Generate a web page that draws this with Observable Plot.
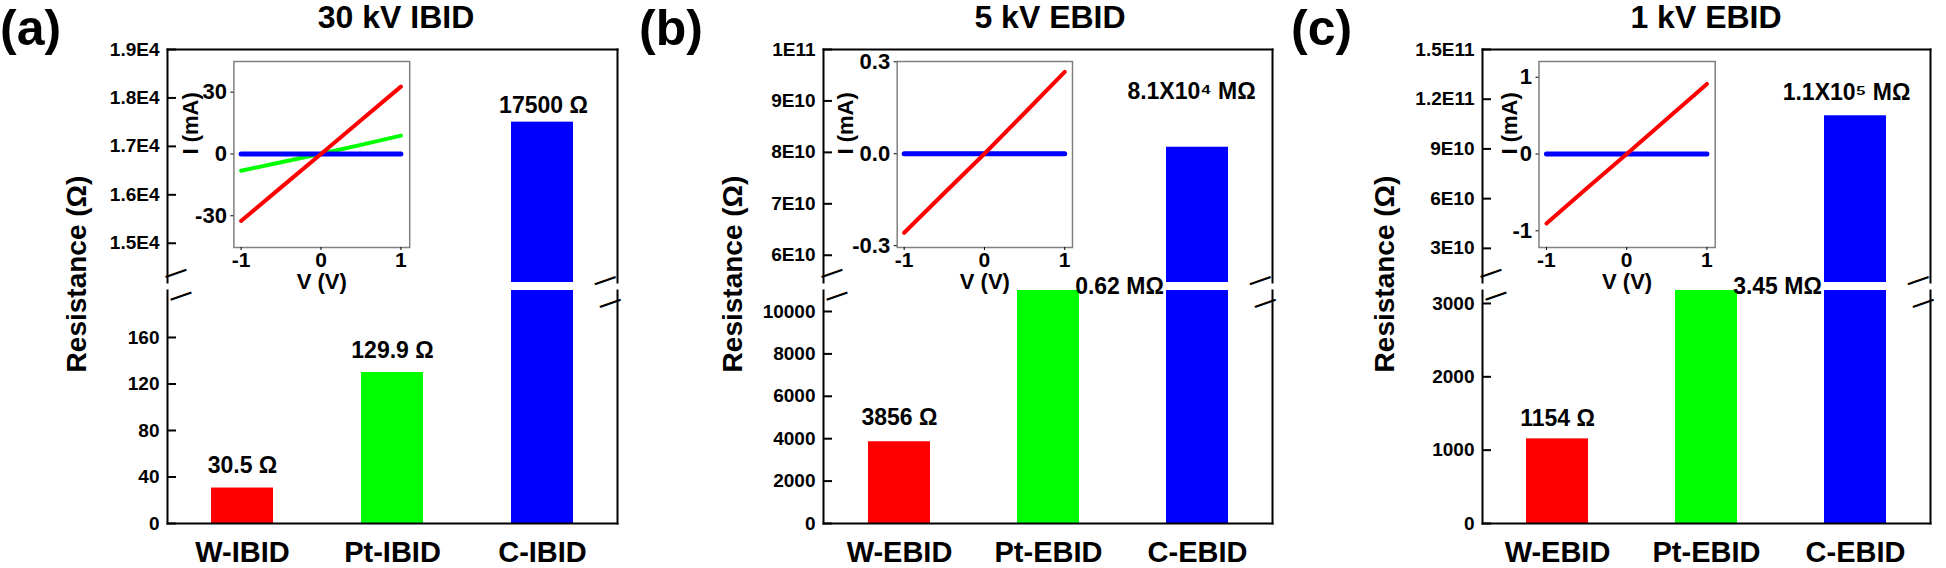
<!DOCTYPE html>
<html><head><meta charset="utf-8">
<script src="https://cdn.jsdelivr.net/npm/d3@7"></script>
<script src="https://cdn.jsdelivr.net/npm/@observablehq/plot@0.6"></script>
<style>
body{margin:0;background:#fff;}
#root{position:relative;width:1946px;height:568px;overflow:hidden;font-family:"Liberation Sans",Arial,sans-serif;font-weight:bold;color:#000;}
#root svg{position:absolute;left:0;top:0;}
.ttl{position:absolute;top:1px;font-size:32px;line-height:1;white-space:nowrap;transform:translateX(-50%);}
.let{position:absolute;top:1px;font-size:50px;line-height:1.1;white-space:nowrap;}
.ylab{position:absolute;font-size:28px;line-height:1;white-space:nowrap;transform:translate(-50%,-50%) rotate(-90deg);}
</style></head><body><div id="root"></div>
<script>
// ---------------- data ----------------
const panelLetters = ["(a)", "(b)", "(c)"];
const panelTitles = ["30 kV IBID", "5 kV EBID", "1 kV EBID"];
const yAxisTitle = "Resistance (Ω)";
const barColors = ["#ff0000", "#00ff00", "#0000ff"];

const aCategories = ["W-IBID", "Pt-IBID", "C-IBID"];
const aResistance = [30.5, 129.9, 17500];
const aValueLabels = ["30.5 Ω", "129.9 Ω", "17500 Ω"];
const aUpperTicks = [15000, 16000, 17000, 18000, 19000];
const aUpperTickLabels = ["1.5E4", "1.6E4", "1.7E4", "1.8E4", "1.9E4"];
const aLowerTicks = [0, 40, 80, 120, 160];
const aLowerTickLabels = ["0", "40", "80", "120", "160"];

const bCategories = ["W-EBID", "Pt-EBID", "C-EBID"];
const bResistance = [3856, 620000, 8.1e10];
const bValueLabels = ["3856 Ω", "0.62 MΩ", "8.1X10⁴ MΩ"];
const bUpperTicks = [6e10, 7e10, 8e10, 9e10, 1e11];
const bUpperTickLabels = ["6E10", "7E10", "8E10", "9E10", "1E11"];
const bLowerTicks = [0, 2000, 4000, 6000, 8000, 10000];
const bLowerTickLabels = ["0", "2000", "4000", "6000", "8000", "10000"];

const cCategories = ["W-EBID", "Pt-EBID", "C-EBID"];
const cResistance = [1154, 3.45e6, 1.1e11];
const cValueLabels = ["1154 Ω", "3.45 MΩ", "1.1X10⁵ MΩ"];
const cUpperTicks = [3e10, 6e10, 9e10, 1.2e11, 1.5e11];
const cUpperTickLabels = ["3E10", "6E10", "9E10", "1.2E11", "1.5E11"];
const cLowerTicks = [0, 1000, 2000, 3000];
const cLowerTickLabels = ["0", "1000", "2000", "3000"];

// I-V insets (V in volts, I in mA)
const ivVoltage = [-1, -0.5, 0, 0.5, 1];
const ivTicksX = [-1, 0, 1];
const ivTickLabelsX = ["-1", "0", "1"];
const aIvRed = [-32.5, -16.2, 0, 16.4, 32.7];
const aIvGreen = [-8.1, -4.0, 0.1, 4.4, 8.9];
const aIvBlue = [0, 0, 0, 0, 0];
const aIvTicks = [-30, 0, 30];
const aIvTickLabels = ["-30", "0", "30"];
const bIvRed = [-0.258, -0.128, 0, 0.133, 0.267];
const bIvGreen = [0, 0, 0, 0, 0];
const bIvBlue = [0, 0, 0, 0, 0];
const bIvTicks = [-0.3, 0, 0.3];
const bIvTickLabels = ["-0.3", "0.0", "0.3"];
const cIvRed = [-0.905, -0.45, 0, 0.455, 0.913];
const cIvGreen = [0, 0, 0, 0, 0];
const cIvBlue = [0, 0, 0, 0, 0];
const cIvTicks = [-1, 0, 1];
const cIvTickLabels = ["-1", "0", "1"];

// ---------------- layout ----------------
const W = 1946, H = 568;
const FRAME_TOP = 49, UPPER_BOTTOM = 282, LOWER_TOP = 290, FRAME_BOTTOM = 523;
const INSET_TOP = 61, INSET_BOTTOM = 247;
const YTITLE_CENTER = 274;
const FONT = "Liberation Sans, Arial, sans-serif";

const panels = [
  {cats: aCategories, vals: aResistance, labels: aValueLabels,
   upTicks: aUpperTicks, upLabels: aUpperTickLabels, upDomain: [14190, 19000],
   loTicks: aLowerTicks, loLabels: aLowerTickLabels, loDomain: [0, 200.4],
   left: 167, right: 617, titleX: 396, letterX: 0, ylabelX: 77,
   lowerLabelIdx: [0, 1], lowerDy: -22, breakIdx: null, topDx: 1, topDy: -17,
   inL: 233.4, inR: 409.2, ivX: [-1.09, 1.11], ivY: [-45.4, 44.9],
   red: aIvRed, green: aIvGreen, blue: aIvBlue, ivTicks: aIvTicks, ivLabels: aIvTickLabels, ivLabelX: 190},
  {cats: bCategories, vals: bResistance, labels: bValueLabels,
   upTicks: bUpperTicks, upLabels: bUpperTickLabels, upDomain: [5.47e10, 1e11],
   loTicks: bLowerTicks, loLabels: bLowerTickLabels, loDomain: [0, 10990],
   left: 823, right: 1272, titleX: 1050, letterX: 639, ylabelX: 733,
   lowerLabelIdx: [0], lowerDy: -24, breakIdx: 1, topDx: -6, topDy: -56,
   inL: 896.7, inR: 1072, ivX: [-1.087, 1.097], ivY: [-0.306, 0.301],
   red: bIvRed, green: bIvGreen, blue: bIvBlue, ivTicks: bIvTicks, ivLabels: bIvTickLabels, ivLabelX: 845},
  {cats: cCategories, vals: cResistance, labels: cValueLabels,
   upTicks: cUpperTicks, upLabels: cUpperTickLabels, upDomain: [9.4e9, 1.5e11],
   loTicks: cLowerTicks, loLabels: cLowerTickLabels, loDomain: [0, 3177],
   left: 1482, right: 1930, titleX: 1706, letterX: 1291, ylabelX: 1385,
   lowerLabelIdx: [0], lowerDy: -20, breakIdx: 1, topDx: -9, topDy: -23,
   inL: 1538.5, inR: 1714.7, ivX: [-1.093, 1.103], ivY: [-1.217, 1.205],
   red: cIvRed, green: cIvGreen, blue: cIvBlue, ivTicks: cIvTicks, ivLabels: cIvTickLabels, ivLabelX: 1509.5}
];

const svgStyle = {fontFamily: FONT, fontWeight: "bold", background: "transparent", overflow: "visible", color: "#000"};
const fmt = (ticks, labels) => d => labels[ticks.indexOf(d)];
const xBand = cats => ({type: "band", domain: cats, paddingInner: 0.587, paddingOuter: 0.2935});
const breakMark = anchor => Plot.text(["—"], {frameAnchor: anchor, rotate: -19, fontSize: 22, fontWeight: "bold"});
// short inward tick marks on the left axis
const inwardTicks = (ticks, p) => Plot.tickY(ticks, {y: d => d, insetRight: (p.right - p.left) - 9, strokeWidth: 2, stroke: "#000"});

const root = document.getElementById("root");

panels.forEach((p, k) => {
  const rows = p.cats.map((c, i) => ({cat: c, value: p.vals[i], label: p.labels[i], fill: barColors[i]}));

  // upper (broken) segment
  const upper = Plot.plot({
    width: W, height: H,
    marginLeft: p.left, marginRight: W - p.right, marginTop: FRAME_TOP, marginBottom: H - UPPER_BOTTOM,
    x: {...xBand(p.cats), axis: null},
    y: {domain: p.upDomain, clamp: true, axis: null},
    color: {type: "identity"},
    style: svgStyle,
    marks: [
      Plot.barY(rows, {x: "cat", y: "value", fill: "fill", clip: true}),
      Plot.frame({anchor: "top", strokeWidth: 2}),
      Plot.frame({anchor: "left", strokeWidth: 2}),
      Plot.frame({anchor: "right", strokeWidth: 2}),
      Plot.axisY(p.upTicks, {tickSize: 0, tickPadding: 8, fontSize: 19, tickFormat: fmt(p.upTicks, p.upLabels), label: null}),
      inwardTicks(p.upTicks, p),
      Plot.text([rows[2]], {x: "cat", y: "value", text: "label", dx: p.topDx, dy: p.topDy, fontSize: 23}),
      breakMark("bottom-left"),
      breakMark("bottom-right")
    ]
  });

  // lower segment
  const lowerMarks = [
    Plot.barY(rows, {x: "cat", y: "value", fill: "fill", clip: true}),
    Plot.frame({anchor: "left", strokeWidth: 2}),
    Plot.frame({anchor: "right", strokeWidth: 2}),
    Plot.frame({anchor: "bottom", strokeWidth: 2}),
    Plot.axisY(p.loTicks, {tickSize: 0, tickPadding: 8, fontSize: 19, tickFormat: fmt(p.loTicks, p.loLabels), label: null}),
    inwardTicks(p.loTicks, p),
    Plot.axisX({tickSize: 0, tickPadding: 18, fontSize: 29, label: null}),
    Plot.text(p.lowerLabelIdx.map(i => rows[i]), {x: "cat", y: "value", text: "label", dy: p.lowerDy, fontSize: 23}),
    breakMark("top-left"),
    breakMark("top-right")
  ];
  if (p.breakIdx != null) {
    lowerMarks.push(Plot.text([rows[p.breakIdx]], {x: "cat", frameAnchor: "top", text: "label", dx: 71, dy: -13, fontSize: 23}));
  }
  const lower = Plot.plot({
    width: W, height: H,
    marginLeft: p.left, marginRight: W - p.right, marginTop: LOWER_TOP, marginBottom: H - FRAME_BOTTOM,
    x: {...xBand(p.cats), axis: null},
    y: {domain: p.loDomain, clamp: true, axis: null},
    color: {type: "identity"},
    style: svgStyle,
    marks: lowerMarks
  });

  // I-V inset
  const iv = [];
  [["green", p.green], ["blue", p.blue], ["red", p.red]].forEach(([name, arr]) => {
    arr.forEach((v, i) => iv.push({series: name, V: ivVoltage[i], I: v}));
  });
  const inset = Plot.plot({
    width: W, height: H,
    marginLeft: p.inL, marginRight: W - p.inR, marginTop: INSET_TOP, marginBottom: H - INSET_BOTTOM,
    x: {domain: p.ivX, axis: null},
    y: {domain: p.ivY, axis: null},
    style: svgStyle,
    marks: [
      Plot.frame({stroke: "#808080", strokeWidth: 1.5}),
      Plot.line(iv.filter(d => d.series === "green"), {x: "V", y: "I", stroke: "#00ff00", strokeWidth: 4}),
      Plot.line(iv.filter(d => d.series === "blue"), {x: "V", y: "I", stroke: "#0000ff", strokeWidth: 5}),
      Plot.line(iv.filter(d => d.series === "red"), {x: "V", y: "I", stroke: "#ff0000", strokeWidth: 4}),
      Plot.axisX(ivTicksX, {tickSize: 3, tickPadding: 2, fontSize: 21, tickFormat: fmt(ivTicksX, ivTickLabelsX), label: null}),
      Plot.axisY(p.ivTicks, {tickSize: 3, tickPadding: 4, fontSize: 22, tickFormat: fmt(p.ivTicks, p.ivLabels), label: null}),
      Plot.text(["V (V)"], {frameAnchor: "bottom", dy: 41, fontSize: 22}),
      Plot.text(["I (mA)"], {frameAnchor: "left", rotate: -90, dx: p.ivLabelX - p.inL, fontSize: 22})
    ]
  });

  root.append(upper, lower, inset);

  const t = document.createElement("div");
  t.className = "ttl"; t.style.left = p.titleX + "px"; t.textContent = panelTitles[k];
  const l = document.createElement("div");
  l.className = "let"; l.style.left = p.letterX + "px"; l.textContent = panelLetters[k];
  const yl = document.createElement("div");
  yl.className = "ylab"; yl.style.left = p.ylabelX + "px"; yl.style.top = YTITLE_CENTER + "px"; yl.textContent = yAxisTitle;
  root.append(t, l, yl);
});
</script></body></html>
